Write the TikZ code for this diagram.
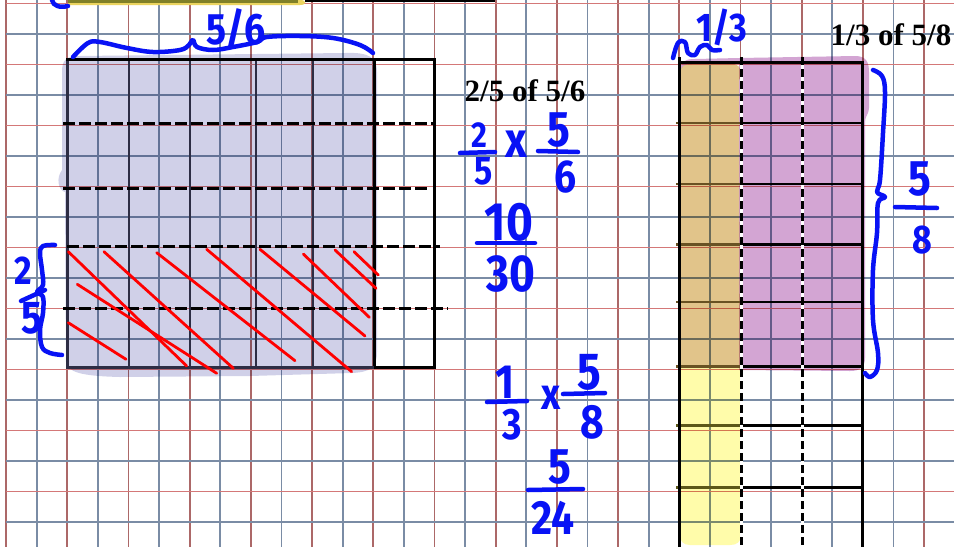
\documentclass[tikz,border=0pt]{standalone}
\usepackage{fontspec}
\setmainfont{Liberation Serif}
\newfontfamily\hand[FakeStretch=0.85]{Fira Sans}
\definecolor{gridred}{RGB}{212,120,120}
\definecolor{gridredv}{RGB}{172,104,104}
\definecolor{gridblue}{RGB}{122,140,165}
\definecolor{hlLav}{RGB}{208,208,232}
\definecolor{hlPurp}{RGB}{211,165,211}
\definecolor{hlTan}{RGB}{225,196,138}
\definecolor{hlYellow}{RGB}{255,252,170}
\definecolor{penblue}{RGB}{8,18,245}
\definecolor{navyln}{RGB}{45,45,68}
\definecolor{tanln}{RGB}{105,82,35}
\definecolor{yelln}{RGB}{92,88,25}
\definecolor{topolive}{RGB}{128,128,40}
\definecolor{topyellow}{RGB}{235,212,95}
\tikzset{
  gridln/.style={line width=1.7pt},
  frameln/.style={line width=3pt},
  innerln/.style={line width=2.6pt},
  dashln/.style={line width=3pt, dash pattern=on 12pt off 4pt},
  vdashln/.style={line width=3pt, dash pattern=on 8pt off 4pt},
  hatch/.style={red, line width=2.8pt, line cap=round},
  pen/.style={penblue, line width=4.5pt, line cap=round, line join=round},
  hw/.style={text=penblue, inner sep=0pt, font={\hand\bfseries\fontsize{#1}{#1}\selectfont}},
  lbl/.style={inner sep=0pt, anchor=base, font={\bfseries\fontsize{31}{31}\selectfont}}
}
\begin{document}
\begin{tikzpicture}[x=1pt,y=-1pt]
\useasboundingbox (0,0) rectangle (954,547);
\clip (0,0) rectangle (954,547);
\fill[white] (0,0) rectangle (954,547);
% grid
\foreach \k in {0,...,31}{%
  \pgfmathsetmacro{\xx}{6.1+30.6*\k}%
  \ifodd\k\def\gc{gridblue}\else\def\gc{gridredv}\fi
  \draw[gridln,\gc] (\xx,0) -- (\xx,547);}
\foreach \k in {0,...,17}{%
  \pgfmathsetmacro{\yy}{3.5+30.5*\k}%
  \ifodd\k\def\gc{gridblue}\else\def\gc{gridred}\fi
  \draw[gridln,\gc] (6,\yy) -- (954,\yy);}
% top strip
\fill[topyellow] (68,0) -- (300,0) .. controls (307,0) and (307,5) .. (300,5) -- (68,5) -- cycle;
\fill[topolive] (68,0) rectangle (298,3);
\draw[line width=3pt] (305,0.5) -- (495,0.5);
\draw[pen] (52,0) .. controls (53,6) and (60,8) .. (68,6);
% highlights
\begin{scope}[blend mode=multiply]
\fill[hlLav] (62,72) .. controls (62,60) and (66,56) .. (80,56) -- (345,53)
  .. controls (370,52) and (377,58) .. (377,72) -- (377,352)
  .. controls (377,368) and (370,372) .. (352,373) -- (250,376) -- (120,377)
  .. controls (80,376) and (68,372) .. (66,362) -- (65,192)
  .. controls (58,190) and (56,178) .. (62,170) -- cycle;
\fill[hlPurp] (739,58) -- (855,56) .. controls (866,56) and (869,62) .. (869,72)
  -- (869,108) .. controls (869,114) and (865,116) .. (865,122) -- (865,358)
  .. controls (865,367) and (860,371) .. (850,371) -- (739,370) -- cycle;
\fill[hlPurp] (680,70) .. controls (681,61) and (686,59) .. (695,59) -- (739,58) -- (739,63) -- (692,64) .. controls (684,64) and (680,66) .. (680,74) -- cycle;
\fill[hlTan] (680,74) .. controls (680,66) and (684,64) .. (692,64) -- (734,64)
  .. controls (742,66) and (743,74) .. (739,80) -- (740,368) -- (680,368) -- cycle;
\fill[hlYellow] (680,368) -- (740,368) -- (741,535) .. controls (741,542) and (737,545) .. (730,545)
  -- (690,545) .. controls (683,545) and (680,541) .. (680,535) -- cycle;
\end{scope}
% left diagram
\foreach \x in {67.7,129,190,256,313}{\draw[innerln,navyln] (\x,59) -- (\x,367);}
\draw[frameln] (374,59) -- (374,367);
\draw[frameln] (434,59) -- (434,367);
\draw[frameln,line cap=rect] (67.7,59) -- (434,59);
\draw[frameln,navyln] (66.2,367) -- (374,367);
\draw[frameln] (374,367) -- (435.5,367);
\draw[dashln] (63,123) -- (434,123);
\draw[dashln] (63,188) -- (427,188);
\draw[dashln] (67,246) -- (440,246);
\draw[dashln] (63,308) -- (448,308);
% red hatching
\draw[hatch] (68.3,251.7) -- (186.7,366);
\draw[hatch] (104,251.7) -- (233.3,368.3);
\draw[hatch] (156.7,252.7) -- (295,360.7);
\draw[hatch] (206.7,249.3) -- (351.7,371.7);
\draw[hatch] (77.3,284.3) -- (216.7,373.3);
\draw[hatch] (68.3,322.7) -- (126,359.3);
\draw[hatch] (260,249.3) -- (365,336);
\draw[hatch] (303.3,254) -- (369.3,317.3);
\draw[hatch] (335,250) -- (376,288.3);
\draw[hatch] (354,251.7) -- (378.3,275);
% right diagram
\foreach \y in {123,184,244.5,302,366.7}{%
  \draw[innerln] (741,\y) -- (862,\y);
  \draw[innerln,tanln] (676,\y) -- (741,\y);}
\foreach \y in {425.7,487.3}{%
  \draw[innerln] (741,\y) -- (862,\y);
  \draw[innerln,yelln] (676,\y) -- (741,\y);}
\draw[frameln] (679,62) -- (862.7,62);
\draw[frameln] (679,57) -- (679,547);
\draw[frameln] (862.7,60.5) -- (862.7,547);
\foreach \x in {741,802}{%
  \draw[line width=3pt,white] (\x,57) -- (\x,547);
  \draw[vdashln] (\x,57) -- (\x,547);}
% blue pen strokes
\draw[pen] plot[smooth,tension=0.6] coordinates {(73,57) (88,43) (100,42) (127,48) (153,52) (180,50) (189,45) (193,40) (197,47) (213,50) (233,47) (257,42) (267,37) (300,36) (333,38) (360,45) (373,53)};
\draw[pen] plot[smooth,tension=0.6] coordinates {(55,245) (43,246) (40,253) (42,270) (43,285) (37,292) (43,297) (43,313) (40,330) (42,347) (50,353) (62,355)};
\draw[pen] plot[smooth,tension=0.6] coordinates {(873,70) (882,76) (885,92) (883,133) (880,180) (877,192) (885,197) (878,203) (877,233) (873,270) (873,320) (878,353) (877,370) (870,377) (865,373)};
\draw[pen] plot[smooth,tension=0.6] coordinates {(673,58) (678,43) (685,42) (688,53) (695,55) (700,47) (707,45) (712,50) (720,50)};
% fraction bars
\draw[pen] (460,153) -- (495,152);
\draw[pen] (538,151) -- (578,152);
\draw[pen] (477,243) -- (535,243);
\draw[pen] (487,402) -- (527,401);
\draw[pen] (563,394) -- (605,393);
\draw[pen] (528,490) -- (583,489);
\draw[pen] (895,207) -- (937,208);
\draw[pen] (21,301) -- (45,290);
% handwritten numbers
\node[hw=36] (a1) at (479,135) {2};
\node[hw=40] (a2) at (484,171) {5};
\node[hw=50] (ax) at (516,144) {x};
\node[hw=50] (a3) at (559,130) {5};
\node[hw=46] (a4) at (566,177) {6};
\node[hw=54] (b1) at (509,222) {10};
\node[hw=52] (b2) at (511,274) {30};
\node[hw=48] (c1) at (505,382) {1};
\node[hw=44] (c2) at (512,425) {3};
\node[hw=44] (cx) at (551,398) {x};
\node[hw=52] (c3) at (589,372) {5};
\node[hw=48] (c4) at (592,422) {8};
\node[hw=50] (d1) at (560,467) {5};
\node[hw=48] (d2) at (553,518) {24};
\node[hw=50] (e1) at (920,179) {5};
\node[hw=40] (e2) at (922,240) {8};
\node[hw=40] (f1) at (23,271) {2};
\node[hw=46] (f2) at (32,318) {5};
\node[hw=44] (g1) at (236,29) {5/6};
\node[hw=40] (g2) at (722,27) {1/3};
% printed labels
\node[lbl] (t1) at (525,101.5) {2/5 of 5/6};
\node[lbl] (t2) at (891,45) {1/3 of 5/8};
\end{tikzpicture}
\end{document}
